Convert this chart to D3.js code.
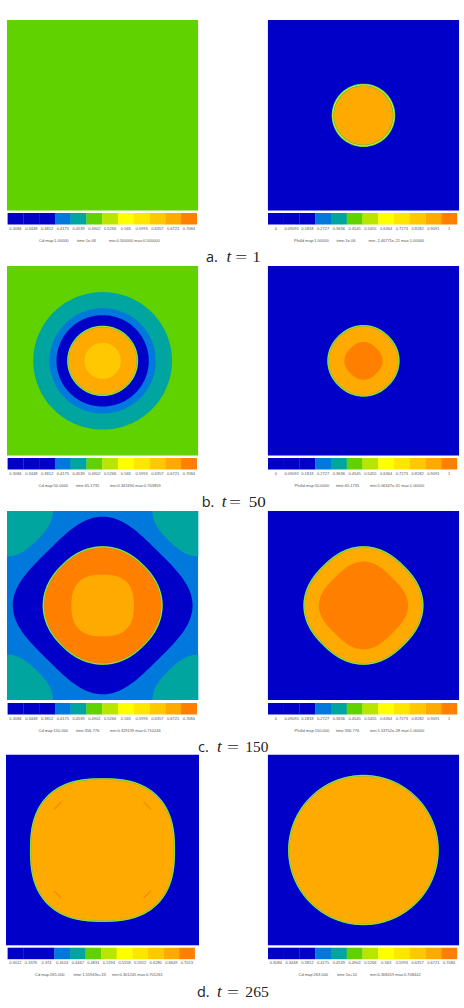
<!DOCTYPE html>
<html>
<head>
<meta charset="utf-8">
<script src="https://cdn.jsdelivr.net/npm/d3@7/dist/d3.min.js"></script>
<style>
html,body{margin:0;padding:0;background:#fff}
svg{display:block}
</style>
</head>
<body>
<div id="fig"></div>
<script>
// Colour bands shared by all the field maps
const palette = ["#0000c8","#0000c8","#0000c8","#0078dc","#00a5a0","#5fd200","#b9e600","#ffff00","#ffe600","#ffc800","#ffaa00","#ff8000"];

// Colour bar labels
const cdTicks = ["0.3084","0.3448","0.3812","0.4175","0.4539","0.4902","0.5266","0.563","0.5993","0.6357","0.6721","0.7084"];
const cdTicksLate = ["0.3012","0.3376","0.374","0.4103","0.4467","0.4831","0.5194","0.5558","0.5922","0.6285","0.6649","0.7013"];
const phiTicks = ["0","0.09091","0.1818","0.2727","0.3636","0.4545","0.5455","0.6364","0.7273","0.8182","0.9091","1"];

// Level sets of each field: [band value, radius on the axes, radius on the diagonals, interface rim weight]
const cdLevelsA = [];
const phiLevelsA = [[0.9091,0.32,0.32,1.5]];
const cdLevelsB = [[0.4539,0.725,0.725,0],[0.4175,0.555,0.555,0],[0.3448,0.482,0.482,0],[0.6721,0.363,0.363,1],[0.6357,0.19,0.19,0]];
const phiLevelsB = [[0.9091,0.37,0.365,1],[1,0.2,0.19,0]];
const cdLevelsC = [[0.3448,0.94,0.813,0],[0.7084,0.62,0.6,1],[0.6721,0.326,0.352,0]];
const phiLevelsC = [[0.9091,0.62,0.59,1],[1,0.466,0.42,0]];
const cdLevelsD = [[0.6649,0.745,0.8,0.9]];
const cdLevelsE = [[0.6721,0.78,0.78,0.9]];

// Far-field band of each map, and the corner pockets of the third one
const backgrounds = [0.4902,0,0.4902,0,0.4175,0,0.3376,0.3084];
const cornerPocketC = [0.4539,0.48,0.44];

// Small defects just inside the drop in the late stage: [x, y, tangent direction]
const defectsD = [[-0.465,-0.465,-1],[0.465,-0.465,1],[-0.465,0.465,1],[0.465,0.465,-1]];

// Captions and run information
const captionLetters = ["a.","b.","c.","d."];
const captionTimes = ["1","50","150","265"];
const infoLines = [
  ["Cd map:1.00000","time:1e-06","min:0.500000 max:0.500000"],
  ["Phi4d map:1.00000","time:1e-06","min:-2.46771e-21 max:1.00000"],
  ["Cd map:50.0000","time:65.1735","min:0.341690 max:0.703859"],
  ["Phi4d map:50.0000","time:65.1735","min:5.06347e-31 max:1.00000"],
  ["Cd map:150.000","time:356.776","min:0.329139 max:0.710246"],
  ["Phi4d map:150.000","time:356.776","min:1.53752e-28 max:1.00000"],
  ["Cd map:265.000","time:1.55943e+33","min:0.301245 max:0.701261"],
  ["Cd map:263.000","time:1e+10","min:0.308419 max:0.708442"]
];

// Page layout
const W = 464, H = 1008;
const rowBoxes = [[20,210.7],[266,455.7],[511,700],[754.5,945.6]];
const barTops = [213,458,703,947.7];
const captionBase = [262,507,752,997];
const captionX = [[206,226.5,235.3,252.5],[201.7,221.7,229,248.7],[198,217,227,245.3],[197,217,227,245.3]];
const captionLen = [8,17,23,23.5];
const infoX = [
  [39,77,109],[294,336.5,368.5],[38.5,76,110],[294.5,336,370],
  [38.5,76,110],[294.5,336,370],[35,73.5,112],[298.5,337,370]
];

const svg = d3.select("#fig").append("svg").attr("width",W).attr("height",H);
const defs = svg.append("defs");

// Closed level curve: a squircle through the two measured radii,
// turned by 45 degrees when the axis radius is the longer one
const levelCurve = (axis, diag) => {
  const diamond = axis > diag;
  const ratio = diamond ? axis/diag : diag/axis;
  const power = 1/(0.5 - Math.log2(ratio));
  const flat = diamond ? diag : axis;
  const turn = diamond ? Math.PI/4 : 0;
  return d3.range(0, 2*Math.PI, Math.PI/90).map(t => {
    const c = Math.abs(Math.cos(t-turn)), s = Math.abs(Math.sin(t-turn));
    const rho = flat / Math.pow(Math.pow(c,power)+Math.pow(s,power),1/power);
    return [rho*Math.cos(t), rho*Math.sin(t)];
  });
};

function drawMap(i, levels, ticks) {
  const row = Math.floor(i/2), right = i%2===1;
  const late = row===3;
  const x0 = right ? 267.7 : (late ? 6 : 7), x1 = right ? 459.2 : (late ? 199 : 198.3);
  const [y0,y1] = rowBoxes[row];
  const x = d3.scaleLinear().domain([-1,1]).range([x0,x1]);
  const y = d3.scaleLinear().domain([-1,1]).range([y0,y1]);

  // Band lookup centred on the colour bar's labelled values
  const vals = ticks.map(Number);
  const half = (vals[1]-vals[0])/2;
  const color = d3.scaleQuantize().domain([vals[0]-half, vals[11]+half]).range(palette);

  const g = svg.append("g");
  const clipId = "clip"+i;
  defs.append("clipPath").attr("id",clipId).append("rect")
    .attr("x",x0).attr("y",y0).attr("width",x1-x0).attr("height",y1-y0);
  const field = g.append("g").attr("clip-path",`url(#${clipId})`);
  field.append("rect").attr("x",x0).attr("y",y0).attr("width",x1-x0).attr("height",y1-y0)
    .attr("fill",color(backgrounds[i]));

  const line = (cx,cy) => d3.line().x(d=>x(cx+d[0])).y(d=>y(cy+d[1])).curve(d3.curveLinearClosed);

  if (i===4) {
    const [v,r,rd] = cornerPocketC;
    [[-1,-1],[1,-1],[-1,1],[1,1]].forEach(([cx,cy]) => {
      field.append("path").attr("d",line(cx,cy)(levelCurve(r,rd))).attr("fill",color(v));
    });
  }

  levels.forEach(([v,r,rd,rim]) => {
    const d = line(0,0)(levelCurve(r,rd));
    field.append("path").attr("d",d).attr("fill",color(v));
    if (rim) {
      // Diffuse interface: band colours narrowing from the outside in
      field.append("path").attr("d",d).attr("fill","none").attr("stroke","#30bb70").attr("stroke-width",1.6*rim);
      field.append("path").attr("d",d).attr("fill","none").attr("stroke","#d8ee10").attr("stroke-width",0.8*rim);
    }
  });

  if (i===6) {
    defectsD.forEach(([dx,dy,dir]) => {
      const t = 0.035;
      field.append("line")
        .attr("x1",x(dx-t)).attr("y1",y(dy-t*dir))
        .attr("x2",x(dx+t)).attr("y2",y(dy+t*dir))
        .attr("stroke",color(0.7013)).attr("stroke-width",1.3).attr("stroke-linecap","round").attr("opacity",0.85);
    });
  }

  // Colour bar
  const barX0 = right ? 268 : 7.6, barX1 = right ? 457 : (late ? 194.7 : 196.8);
  const barY = barTops[row];
  const band = d3.scaleBand().domain(d3.range(12)).range([barX0,barX1]);
  g.selectAll("rect.cell").data(d3.range(12)).join("rect").attr("class","cell")
    .attr("x",d=>band(d)).attr("y",barY).attr("width",band.bandwidth()+0.2).attr("height",11.5)
    .attr("fill",d=>palette[d]);
  g.selectAll("text.tick").data(ticks).join("text").attr("class","tick")
    .attr("x",(d,k)=>band(k)+band.bandwidth()/2).attr("y",barY+16.6)
    .attr("text-anchor","middle").attr("font-family","Liberation Sans").attr("font-size",4)
    .attr("fill","#555").text(d=>d);

  // Run information line
  g.selectAll("text.info").data(infoLines[i]).join("text").attr("class","info")
    .attr("x",(d,k)=>infoX[i][k]).attr("y",barY+28.6)
    .attr("font-family","Liberation Sans").attr("font-size",4)
    .attr("fill","#555").text(d=>d);
}

drawMap(0,cdLevelsA,cdTicks);
drawMap(1,phiLevelsA,phiTicks);
drawMap(2,cdLevelsB,cdTicks);
drawMap(3,phiLevelsB,phiTicks);
drawMap(4,cdLevelsC,cdTicks);
drawMap(5,phiLevelsC,phiTicks);
drawMap(6,cdLevelsD,cdTicksLate);
drawMap(7,cdLevelsE,cdTicks);

// Sub-figure captions
captionLetters.forEach((letter,k) => {
  const g = svg.append("g").attr("fill","#222").attr("font-size",15.5);
  const yb = captionBase[k], xs = captionX[k];
  g.append("text").attr("x",xs[0]).attr("y",yb).attr("font-family","Open Sans").attr("font-size",14.5).text(letter);
  g.append("text").attr("x",xs[1]).attr("y",yb).attr("font-family","Liberation Serif").attr("font-style","italic").attr("font-size",17).text("t");
  g.append("text").attr("x",xs[2]).attr("y",yb).attr("font-family","Liberation Serif")
    .attr("textLength",12).attr("lengthAdjust","spacingAndGlyphs").text("=");
  g.append("text").attr("x",xs[3]).attr("y",yb).attr("font-family","Liberation Serif")
    .attr("textLength",captionLen[k]).attr("lengthAdjust","spacingAndGlyphs").text(captionTimes[k]);
});
</script>
</body>
</html>
